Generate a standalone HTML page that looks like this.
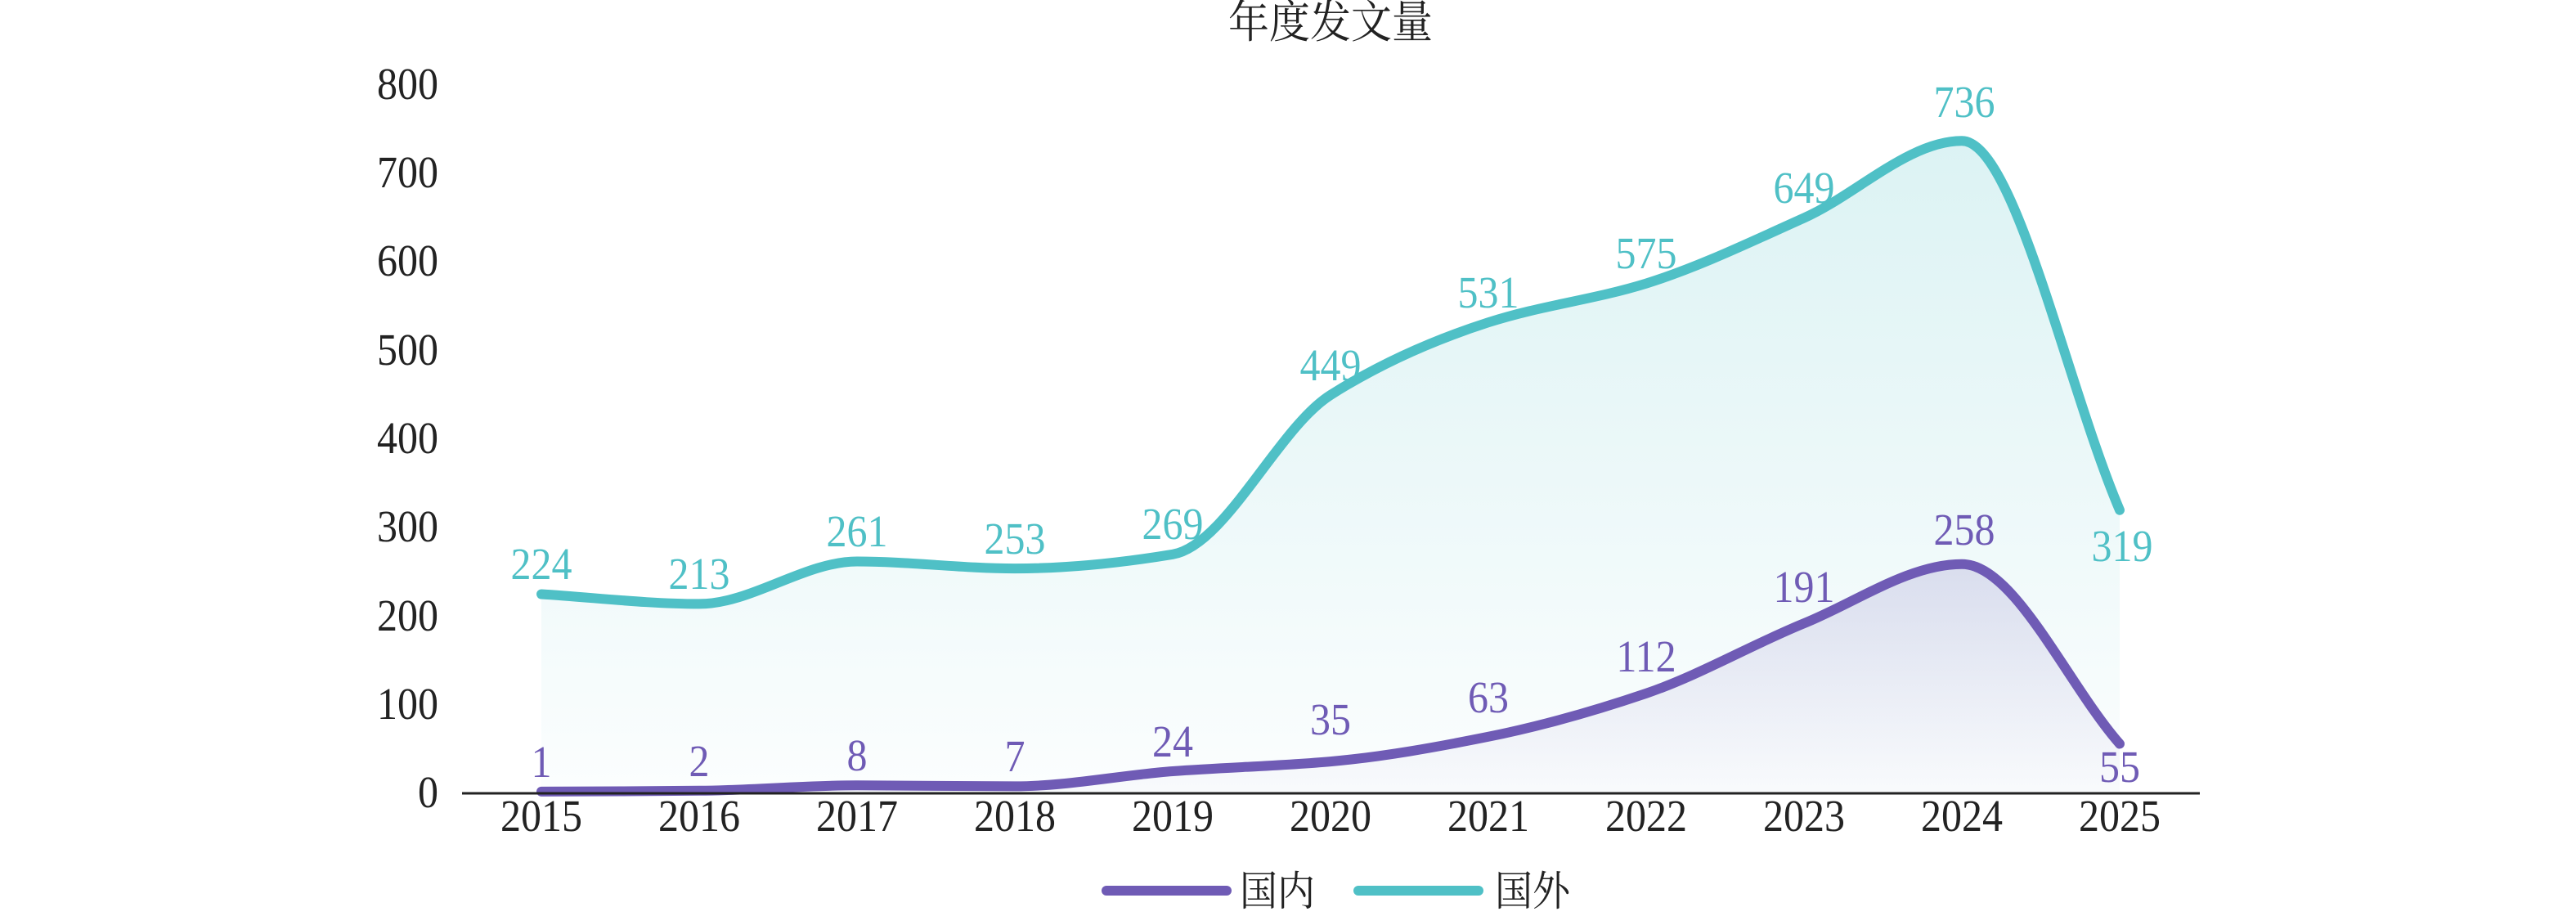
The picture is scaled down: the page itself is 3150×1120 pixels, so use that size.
<!DOCTYPE html>
<html><head><meta charset="utf-8"><style>
html,body{margin:0;padding:0;background:#fff;}
svg{display:block;}
text{font-family:"Liberation Serif","Noto Serif CJK SC",serif;}
</style></head><body>
<svg id="c" width="3150" height="1120" viewBox="0 0 3150 1120" xmlns="http://www.w3.org/2000/svg">
<defs>
<linearGradient id="gt" x1="0" y1="0" x2="0" y2="1">
<stop offset="0" stop-color="#4fc0c6" stop-opacity="0.2"/>
<stop offset="1" stop-color="#4fc0c6" stop-opacity="0.02"/>
</linearGradient>
<linearGradient id="gp" x1="0" y1="0" x2="0" y2="1">
<stop offset="0" stop-color="#6f5bb5" stop-opacity="0.18"/>
<stop offset="1" stop-color="#6f5bb5" stop-opacity="0.02"/>
</linearGradient>
</defs>
<text class="s" x="1627" y="46" font-size="50" text-anchor="middle" fill="#222">年度发文量</text>
<g font-size="50" fill="#222" text-anchor="end">
<text class="s" x="536" y="121">800</text>
<text class="s" x="536" y="229">700</text>
<text class="s" x="536" y="337">600</text>
<text class="s" x="536" y="446">500</text>
<text class="s" x="536" y="554">400</text>
<text class="s" x="536" y="662">300</text>
<text class="s" x="536" y="771">200</text>
<text class="s" x="536" y="879">100</text>
<text class="s" x="536" y="987">0</text>
</g>
<path id="ft" fill="url(#gt)"/>
<path id="fp" fill="url(#gp)"/>
<path id="lt" fill="none" stroke="#4fc0c6" stroke-width="12" stroke-linecap="round"/>
<path id="lp" fill="none" stroke="#6f5bb5" stroke-width="12" stroke-linecap="round"/>
<line x1="565" y1="970" x2="2690" y2="970" stroke="#222" stroke-width="3"/>
<g font-size="50" fill="#222" text-anchor="middle">
<text class="s" x="662" y="1016">2015</text><text class="s" x="855" y="1016">2016</text><text class="s" x="1048" y="1016">2017</text>
<text class="s" x="1241" y="1016">2018</text><text class="s" x="1434" y="1016">2019</text><text class="s" x="1627" y="1016">2020</text>
<text class="s" x="1820" y="1016">2021</text><text class="s" x="2013" y="1016">2022</text><text class="s" x="2206" y="1016">2023</text>
<text class="s" x="2399" y="1016">2024</text><text class="s" x="2592" y="1016">2025</text>
</g>
<g font-size="50" fill="#4fc0c6" text-anchor="middle">
<text class="s" x="662" y="708">224</text><text class="s" x="855" y="720">213</text><text class="s" x="1048" y="668">261</text>
<text class="s" x="1241" y="677">253</text><text class="s" x="1434" y="659">269</text><text class="s" x="1627" y="465">449</text>
<text class="s" x="1820" y="376">531</text><text class="s" x="2013" y="328">575</text><text class="s" x="2206" y="248">649</text>
<text class="s" x="2402" y="143">736</text><text class="s" x="2595" y="686">319</text>
</g>
<g font-size="50" fill="#6f5bb5" text-anchor="middle">
<text class="s" x="662" y="950">1</text><text class="s" x="855" y="949">2</text><text class="s" x="1048" y="942">8</text>
<text class="s" x="1241" y="943">7</text><text class="s" x="1434" y="925">24</text><text class="s" x="1627" y="898">35</text>
<text class="s" x="1820" y="871">63</text><text class="s" x="2013" y="821">112</text><text class="s" x="2206" y="736">191</text>
<text class="s" x="2402" y="666">258</text><text class="s" x="2592" y="956">55</text>
</g>
<line x1="1353" y1="1089" x2="1500" y2="1089" stroke="#6f5bb5" stroke-width="12" stroke-linecap="round"/>
<text class="s" x="1516" y="1107" font-size="46" fill="#222">国内</text>
<line x1="1661" y1="1089" x2="1808" y2="1089" stroke="#4fc0c6" stroke-width="12" stroke-linecap="round"/>
<text class="s" x="1828" y="1107" font-size="46" fill="#222">国外</text>
</svg>
<script>
(function(){
var ts=document.querySelectorAll('text.s');
for(var i=0;i<ts.length;i++){var t=ts[i];var tx=t.getAttribute('x'),ty=t.getAttribute('y');
t.setAttribute('x',0);t.setAttribute('y',0);t.setAttribute('transform','translate('+tx+','+ty+') scale(1,1.1)');}
var xs=[662,855,1048,1241,1434,1627,1820,2013,2206,2399,2592];
function yv(v){return 969-1.0825*v;}
var T=[224,213,261,253,269,449,531,575,649,736,319],P=[1,2,8,7,24,35,63,112,191,258,55];
function path(vals){
var n=xs.length,Y=vals.map(yv),d=[],m=[];
for(var i=0;i<n-1;i++)d.push((Y[i+1]-Y[i])/(xs[i+1]-xs[i]));
m[0]=d[0];m[n-1]=d[n-2];
for(var i=1;i<n-1;i++){ if(d[i-1]*d[i]<=0)m[i]=0; else m[i]=2/(1/d[i-1]+1/d[i]); }
var s="M"+xs[0]+","+Y[0].toFixed(1);
for(var i=0;i<n-1;i++){var h=(xs[i+1]-xs[i])/3;
s+=" C"+(xs[i]+h).toFixed(1)+","+(Y[i]+m[i]*h).toFixed(1)+" "+(xs[i+1]-h).toFixed(1)+","+(Y[i+1]-m[i+1]*h).toFixed(1)+" "+xs[i+1]+","+Y[i+1].toFixed(1);}
return s;}
var dt=path(T),dp=path(P);
document.getElementById('lt').setAttribute('d',dt);
document.getElementById('lp').setAttribute('d',dp);
document.getElementById('ft').setAttribute('d',dt+" L2592,969 L662,969 Z");
document.getElementById('fp').setAttribute('d',dp+" L2592,969 L662,969 Z");
})();
</script>
</body></html>
